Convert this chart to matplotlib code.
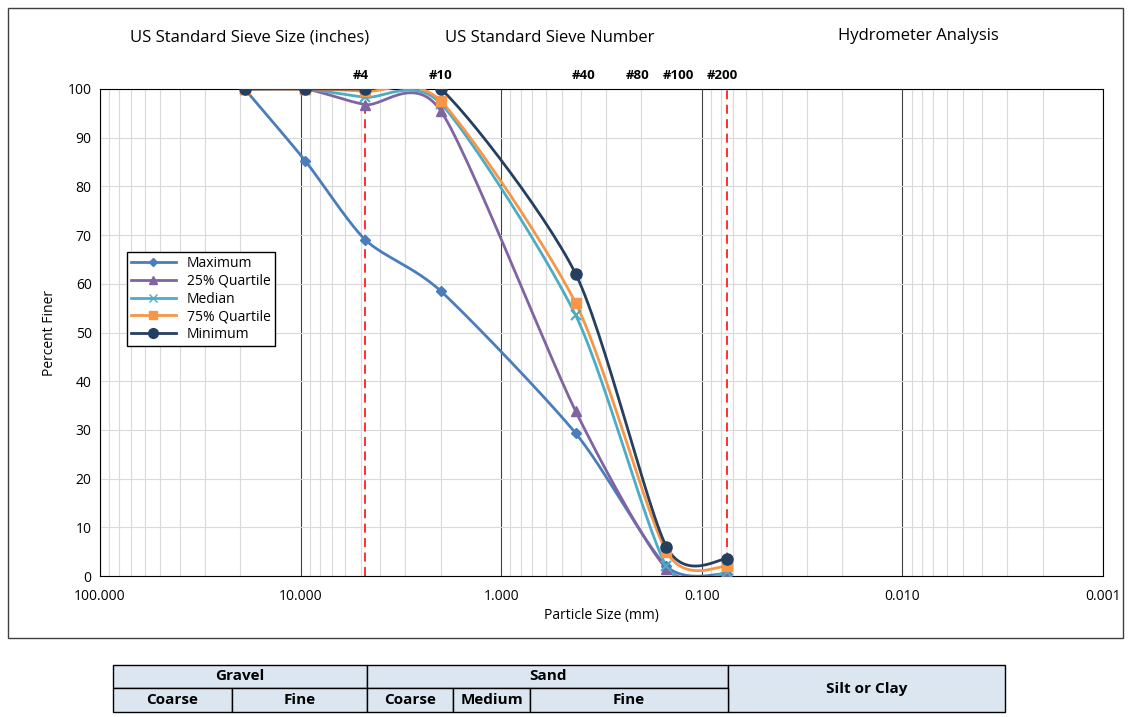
import numpy as np
import matplotlib.pyplot as plt
from matplotlib.ticker import FixedLocator, LogLocator, NullFormatter
from matplotlib.patches import Rectangle

plt.rcParams['font.family'] = ['Open Sans', 'DejaVu Sans']

sizes = [19.0, 9.5, 4.75, 2.0, 0.425, 0.15, 0.075]
maximum = [100, 85.3, 69.0, 58.5, 29.3, 2.0, 0.5]
q25 = [100, 100, 96.8, 95.5, 33.8, 1.5, 0.3]
median = [100, 100, 98.3, 97.0, 53.5, 2.0, 0.8]
q75 = [100, 100, 99.5, 97.5, 56.0, 5.0, 2.0]
minimum = [100, 100, 100, 100, 62.0, 6.0, 3.5]

series = [
    ("Maximum", maximum, "#4A7EBB", "D", 5),
    ("25% Quartile", q25, "#8064A2", "^", 7),
    ("Median", median, "#4BACC6", "x", 7),
    ("75% Quartile", q75, "#F79646", "s", 7),
    ("Minimum", minimum, "#243F60", "o", 8),
]
sieve_labels = [("#4", 5.0), ("#10", 2.0), ("#40", 0.39), ("#80", 0.21), ("#100", 0.131), ("#200", 0.079)]


def smooth(xs, ys, n=30, k=0.25):
    # cubic Bezier through the points (Excel-like smoothing), in log-x space
    lx = np.log10(xs)
    p = np.column_stack([lx, ys])
    m = len(p)
    out = []
    for i in range(m - 1):
        p0 = p[max(i - 1, 0)]
        p1, p2 = p[i], p[i + 1]
        p3 = p[min(i + 2, m - 1)]
        c1 = p1 + k * (p2 - p0) / 2
        c2 = p2 - k * (p3 - p1) / 2
        t = np.linspace(0, 1, n)[:, None]
        b = ((1 - t) ** 3) * p1 + 3 * ((1 - t) ** 2) * t * c1 + 3 * (1 - t) * t ** 2 * c2 + t ** 3 * p2
        out.append(b)
    c = np.vstack(out)
    return 10 ** c[:, 0], c[:, 1]


fig = plt.figure(figsize=(11.32, 7.17), dpi=100)
ax = fig.add_axes([100 / 1132, 1 - 576 / 717, 1003 / 1132, 487 / 717])
ax.set_xscale("log")
ax.set_xlim(100, 0.001)
ax.set_ylim(0, 100)

ax.xaxis.set_major_locator(FixedLocator([100, 10, 1, 0.1, 0.01, 0.001]))
ax.set_xticklabels(["100.000", "10.000", "1.000", "0.100", "0.010", "0.001"])
ax.xaxis.set_minor_locator(LogLocator(base=10, subs=np.arange(2, 10)))
ax.xaxis.set_minor_formatter(NullFormatter())
ax.set_yticks(range(0, 101, 10))
ax.grid(which="minor", axis="x", color="#D9D9D9", lw=0.8)
ax.grid(which="major", axis="y", color="#D9D9D9", lw=0.8)
ax.grid(which="major", axis="x", color="#404040", lw=0.8)
ax.set_axisbelow(True)
ax.tick_params(which="both", length=0, labelsize=10)
ax.tick_params(axis="x", pad=9)
ax.tick_params(axis="y", pad=6)
for s in ax.spines.values():
    s.set_color("black")

for xv in [4.75, 0.075]:
    ax.axvline(xv, color="#FF2020", ls=(0, (5, 3)), lw=1.3, zorder=2)

for name, vals, col, mk, ms in series:
    sx, sy = smooth(sizes, vals)
    ax.plot(sx, sy, color=col, lw=2, zorder=3)
    ax.plot(sizes, vals, ls="none", marker=mk, ms=ms, color=col,
            mew=1.5 if mk == "x" else 1, zorder=4)
    ax.plot([], [], color=col, lw=2, marker=mk, ms=ms - 1, label=name)

leg = ax.legend(loc="upper left", bbox_to_anchor=(20 / 1003, 0.68), fancybox=False,
                edgecolor="black", framealpha=1, fontsize=10, borderpad=0.3,
                labelspacing=0.2, handlelength=3.2)
leg.get_frame().set_linewidth(1)

ax.set_xlabel("Particle Size (mm)", fontsize=10, labelpad=3)
ax.set_ylabel("Percent Finer", fontsize=10, labelpad=8)

for lab, xv in sieve_labels:
    ax.text(xv, 101.5, lab, ha="center", va="bottom", fontsize=9.5, fontweight="bold")
fig.text(250 / 1132, 1 - 38 / 717, "US Standard Sieve Size (inches)", ha="center", va="center", fontsize=12)
fig.text(550 / 1132, 1 - 38 / 717, "US Standard Sieve Number", ha="center", va="center", fontsize=12)
fig.text(918 / 1132, 1 - 36 / 717, "Hydrometer Analysis", ha="center", va="center", fontsize=12)

fig.patches.append(Rectangle((8 / 1132, 1 - 638 / 717), 1115 / 1132, 630 / 717,
                             transform=fig.transFigure, fill=False, ec="#404040", lw=1))

# classification table
W, H = 1132, 717
def cell(x0, x1, y0, y1, txt):
    fig.patches.append(Rectangle((x0 / W, 1 - y1 / H), (x1 - x0) / W, (y1 - y0) / H,
                                 transform=fig.transFigure, fc="#DCE6F1", ec="black", lw=1))
    fig.text((x0 + x1) / 2 / W, 1 - (y0 + y1) / 2 / H, txt, ha="center", va="center",
             fontsize=11, fontweight="bold")

cell(113, 367, 665, 688, "Gravel")
cell(367, 728, 665, 688, "Sand")
cell(728, 1005, 665, 712, "Silt or Clay")
cell(113, 232, 688, 712, "Coarse")
cell(232, 367, 688, 712, "Fine")
cell(367, 453, 688, 712, "Coarse")
cell(453, 530, 688, 712, "Medium")
cell(530, 728, 688, 712, "Fine")

fig.savefig("out.png", dpi=100)
